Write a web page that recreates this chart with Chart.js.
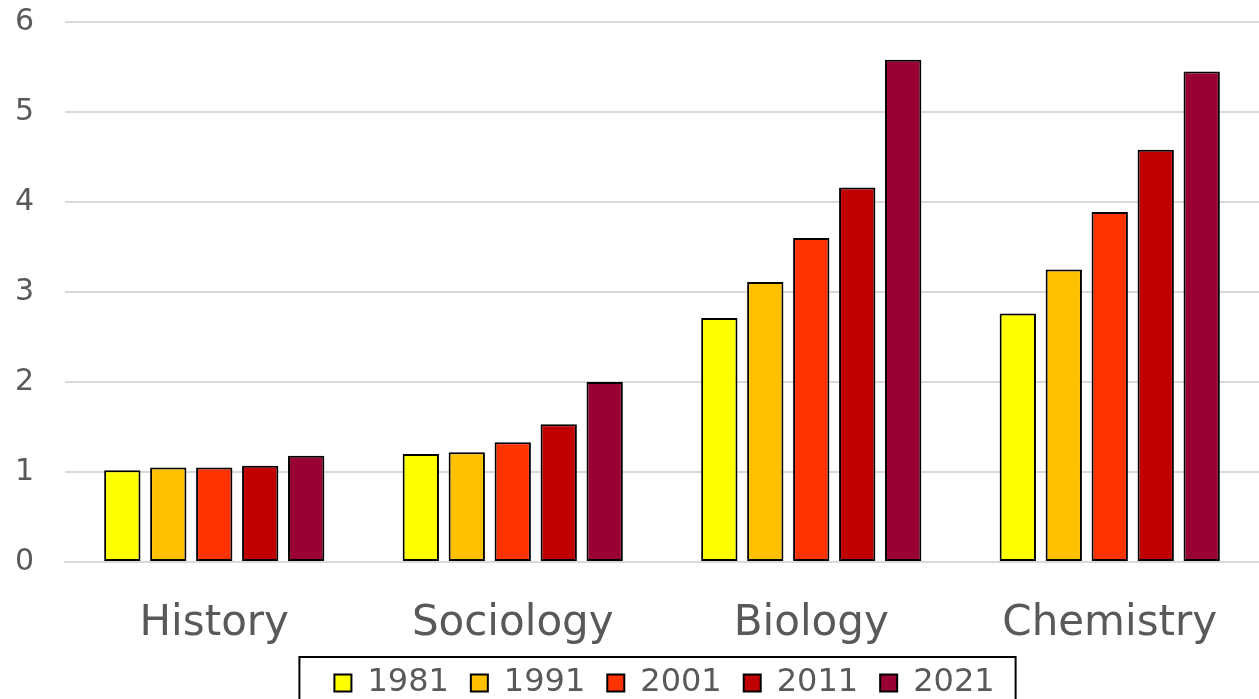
<!DOCTYPE html>
<html>
<head>
<meta charset="utf-8">
<script src="https://cdn.jsdelivr.net/npm/chart.js@4.4.1/dist/chart.umd.min.js"></script>
<style>
  html, body { margin: 0; padding: 0; background: #fff; }
  #wrap { width: 1259px; height: 699px; position: relative; }
</style>
</head>
<body>
<div id="wrap"><canvas id="grafico"></canvas></div>
<script>
// datos por disciplina y año
const categorias = ['History', 'Sociology', 'Biology', 'Chemistry'];
const anios = ['1981', '1991', '2001', '2011', '2021'];
const valores1981 = [1.02, 1.20, 2.71, 2.76];
const valores1991 = [1.05, 1.22, 3.11, 3.25];
const valores2001 = [1.05, 1.33, 3.60, 3.89];
const valores2011 = [1.07, 1.53, 4.16, 4.58];
const valores2021 = [1.18, 2.00, 5.58, 5.45];
const colores = ['#FFFF00', '#FFC000', '#FF3300', '#C00000', '#990033'];

const series = [valores1981, valores1991, valores2001, valores2011, valores2021];
const fuente = 'Verdana, "DejaVu Sans", sans-serif';
const gris = '#595959';

const ALTO = 699;
const BASE_GRAFICO = 562;   // borde inferior del área de barras
const HUECO_INFERIOR = 60;  // la leyenda se coloca a mano, fuera del cálculo
const DESPLAZAR_LEYENDA = 35;
const TOPE_LEYENDA = 645;

// mueve la leyenda y dibuja el marco alrededor
const marcoLeyenda = {
    id: 'marcoLeyenda',
    afterLayout(chart) {
        const ley = chart.legend;
        const alto = ley.height;
        ley.left += DESPLAZAR_LEYENDA;
        ley.right += DESPLAZAR_LEYENDA;
        ley.top = TOPE_LEYENDA;
        ley.bottom = TOPE_LEYENDA + alto;
    },
    afterDraw(chart) {
        const cajas = chart.legend.legendHitBoxes;
        if (!cajas || !cajas.length) return;
        const ctx = chart.ctx;
        const primera = cajas[0];
        const ultima = cajas[cajas.length - 1];
        const centro = primera.top + primera.height / 2;
        const izq = primera.left - 35;
        const der = ultima.left + ultima.width + 21;
        ctx.save();
        ctx.strokeStyle = '#000';
        ctx.lineWidth = 2;
        ctx.strokeRect(izq, centro - 26, der - izq, 60);
        ctx.restore();
    }
};

new Chart(document.getElementById('grafico'), {
    type: 'bar',
    data: {
        labels: categorias,
        datasets: anios.map((anio, i) => ({
            label: anio,
            data: series[i],
            backgroundColor: colores[i],
            borderColor: '#000',
            borderWidth: 2,
            borderSkipped: false,
            categoryPercentage: 0.77,
            barPercentage: 0.79
        }))
    },
    options: {
        responsive: true,
        maintainAspectRatio: false,
        animation: false,
        layout: { padding: { top: 22, right: 0, left: 0, bottom: -HUECO_INFERIOR } },
        scales: {
            x: {
                grid: { display: false, drawTicks: false },
                border: { display: true, color: '#d9d9d9', width: 2 },
                ticks: { color: gris, font: { family: fuente, size: 42 }, padding: 37 },
                afterFit(escala) {
                    escala.height = ALTO + HUECO_INFERIOR - BASE_GRAFICO - escala.chart.legend.height;
                }
            },
            y: {
                min: 0,
                max: 6,
                grid: { color: '#d9d9d9', lineWidth: 2, drawTicks: false },
                border: { display: false },
                ticks: { stepSize: 1, color: gris, font: { family: fuente, size: 30 }, padding: 31 },
                afterFit(escala) {
                    escala.width = 65;
                    escala.paddingTop = 0;
                    escala.paddingBottom = 0;
                }
            }
        },
        plugins: {
            tooltip: { enabled: false },
            legend: {
                position: 'bottom',
                labels: {
                    color: gris,
                    font: { family: fuente, size: 32 },
                    boxWidth: 17,
                    boxHeight: 17,
                    padding: 22
                }
            }
        }
    },
    plugins: [marcoLeyenda]
});
</script>
</body>
</html>
